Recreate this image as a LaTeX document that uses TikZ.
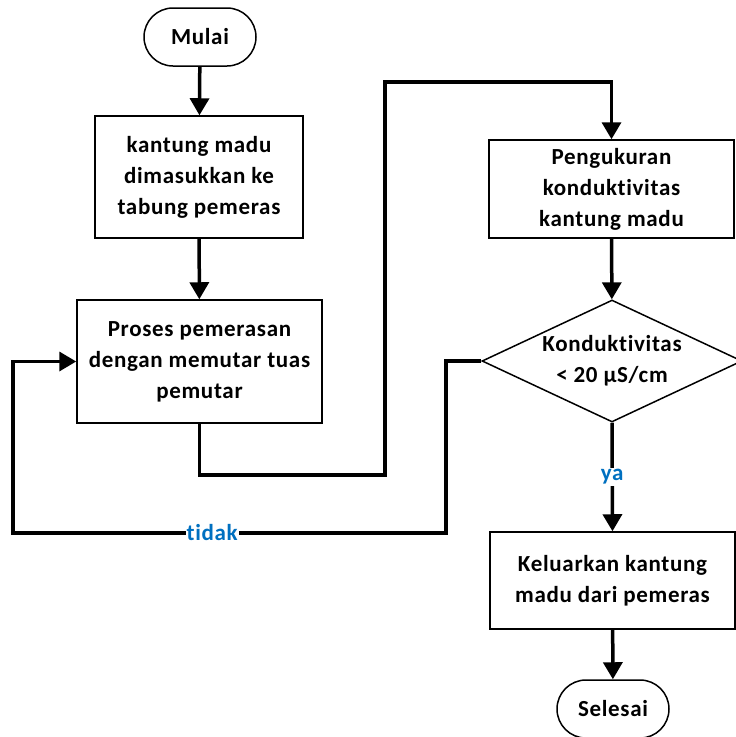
\documentclass[tikz,border=0pt]{standalone}
\usepackage{fontspec}
\setmainfont{Carlito}[LetterSpace=3,Ligatures=NoCommon]
\usetikzlibrary{arrows.meta,shapes.geometric,shapes.misc,positioning}
\definecolor{biru}{HTML}{0070C0}

\begin{document}
\begin{tikzpicture}[x=1pt,y=-1pt,
        every node/.style={font=\bfseries\fontsize{23}{31}\selectfont,align=center},
        terminal/.style={draw,rounded rectangle,line width=1.5pt,minimum width=112pt,minimum height=58pt,inner sep=0pt},
        proses/.style={draw,rectangle,line width=1.5pt,minimum width=245pt,inner sep=0pt},
        keputusan/.style={draw,diamond,line width=1.5pt,aspect=2.13,minimum width=260pt,minimum height=122pt,inner sep=0pt},
        panah/.style={line width=3.5pt,-{Triangle[length=17pt,width=19pt]}},
        label/.style={fill=white,text=biru,inner sep=2pt}]
    \useasboundingbox (0,0) rectangle (736,737);
    \node[terminal] (mulai) at (200,37) {Mulai};
    \node[proses,minimum width=208pt,minimum height=122pt] (masuk) at (199,177)
        {kantung madu\\dimasukkan ke\\tabung pemeras};
    \node[proses,minimum height=123pt] (peras) at (199.5,361.5)
        {Proses pemerasan\\dengan memutar tuas\\pemutar};
    \node[proses,minimum height=98pt] (ukur) at (611.5,189)
        {Pengukuran\\konduktivitas\\kantung madu};
    \node[keputusan] (cek) at (612,361) {Konduktivitas\\< 20 µS/cm};
    \node[proses,minimum height=97pt] (keluar) at (612.5,580.5)
        {Keluarkan kantung\\madu dari pemeras};
    \node[terminal] (selesai) at (613,709) {Selesai};

    \coordinate (b1) at (385,475);
    \coordinate (b2) at (385,82);
    \coordinate (t1) at (446,533);
    \coordinate (t2) at (13,533);

    \draw[panah] (mulai) -- (masuk);
    \draw[panah] (masuk) -- (peras);
    \draw[panah] (peras.south) |- (b1) -- (b2) -| (ukur.north);
    \draw[panah] (ukur) -- (cek);
    \draw[panah] (cek.south) -- node[label] {ya} (keluar.north);
    \draw[panah] (cek.west) -| (t1) -- node[label,pos=0.54,inner sep=1pt] {tidak} (t2) |- (peras.west);
    \draw[panah] (keluar) -- (selesai);
\end{tikzpicture}
\end{document}
